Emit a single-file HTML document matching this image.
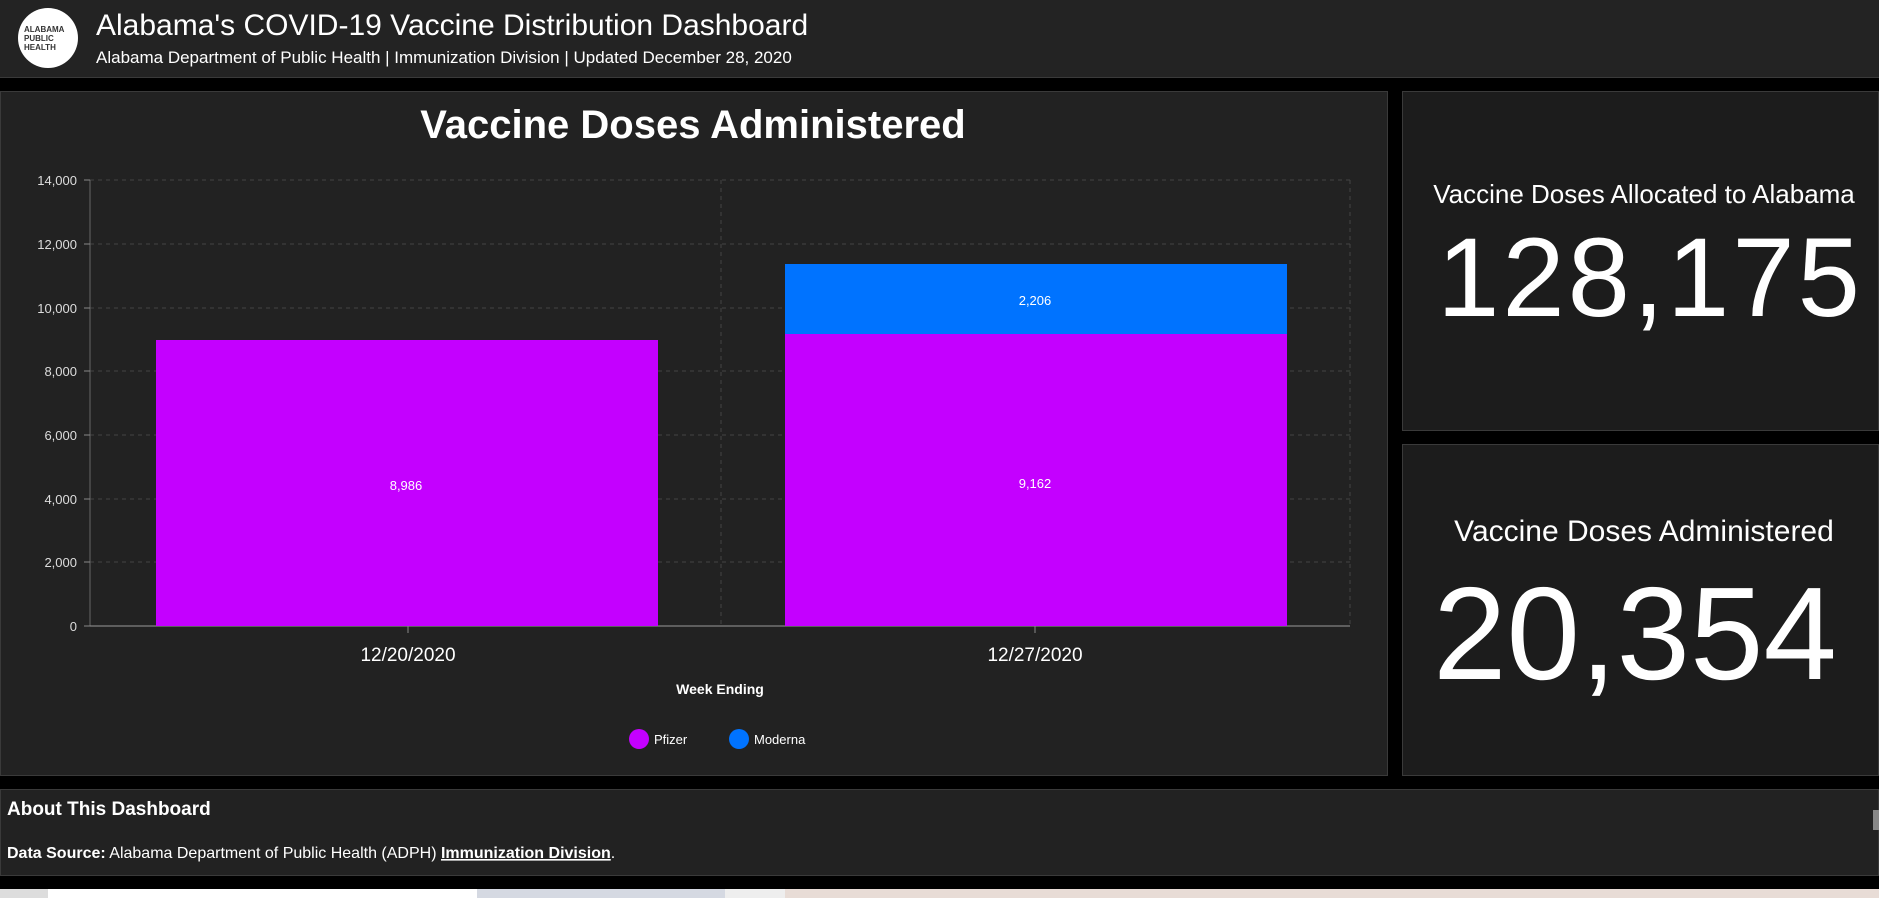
<!DOCTYPE html>
<html><head><meta charset="utf-8"><style>
*{margin:0;padding:0;box-sizing:border-box}
body{width:1879px;height:898px;background:#000;position:relative;overflow:hidden;font-family:"Liberation Sans",sans-serif;color:#fff}
.a{position:absolute}
</style></head><body>
<div class="a" style="left:0;top:0;width:1879px;height:78px;background:#232323;border-bottom:1px solid #3a3a3a"></div>
<div class="a" style="left:18px;top:8px;width:60px;height:60px;border-radius:50%;background:#fff;color:#333;font-size:8px;line-height:9px;padding:17px 0 0 6px;font-weight:bold">ALABAMA<br>PUBLIC<br>HEALTH</div>
<div class="a" style="left:96px;top:9px;font-size:30px;white-space:nowrap">Alabama's COVID-19 Vaccine Distribution Dashboard</div>
<div class="a" style="left:96px;top:48px;font-size:17px;white-space:nowrap">Alabama Department of Public Health | Immunization Division | Updated December 28, 2020</div>

<div class="a" style="left:0;top:91px;width:1388px;height:685px;background:#222;border:1px solid #3a3a3a"></div>
<div class="a" style="left:1402px;top:91px;width:477px;height:340px;background:#1c1c1c;border:1px solid #3a3a3a"></div>
<div class="a" style="left:1402px;top:444px;width:477px;height:332px;background:#1c1c1c;border:1px solid #3a3a3a"></div>
<div class="a" style="left:0;top:789px;width:1879px;height:87px;background:#222;border:1px solid #3a3a3a"></div>

<svg class="a" style="left:0;top:0" width="1879" height="898">
<text x="693" y="138" text-anchor="middle" font-size="40" font-weight="bold" fill="#fff">Vaccine Doses Administered</text>
<g stroke="#444" stroke-dasharray="4,4" stroke-width="1">
<line x1="90" y1="180" x2="1350" y2="180"/><line x1="90" y1="244" x2="1350" y2="244"/>
<line x1="90" y1="308" x2="1350" y2="308"/><line x1="90" y1="371" x2="1350" y2="371"/>
<line x1="90" y1="435" x2="1350" y2="435"/><line x1="90" y1="499" x2="1350" y2="499"/>
<line x1="90" y1="562" x2="1350" y2="562"/>
<line x1="721" y1="180" x2="721" y2="626"/><line x1="1350" y1="180" x2="1350" y2="626"/>
</g>
<line x1="90" y1="180" x2="90" y2="626" stroke="#666"/>
<line x1="90" y1="626" x2="1350" y2="626" stroke="#999"/>
<g fill="#ddd" font-size="13" text-anchor="end">
<text x="77" y="185">14,000</text><text x="77" y="249">12,000</text><text x="77" y="313">10,000</text>
<text x="77" y="376">8,000</text><text x="77" y="440">6,000</text><text x="77" y="504">4,000</text>
<text x="77" y="567">2,000</text><text x="77" y="631">0</text>
</g>
<g stroke="#888"><line x1="84" y1="180" x2="90" y2="180"/><line x1="84" y1="244" x2="90" y2="244"/><line x1="84" y1="308" x2="90" y2="308"/><line x1="84" y1="371" x2="90" y2="371"/><line x1="84" y1="435" x2="90" y2="435"/><line x1="84" y1="499" x2="90" y2="499"/><line x1="84" y1="562" x2="90" y2="562"/><line x1="84" y1="626" x2="90" y2="626"/>
<line x1="408" y1="626" x2="408" y2="633"/><line x1="1035" y1="626" x2="1035" y2="633"/></g>
<rect x="156" y="340" width="502" height="286" fill="#c400ff"/>
<rect x="785" y="334" width="502" height="292" fill="#c400ff"/>
<rect x="785" y="264" width="502" height="70" fill="#0073ff"/>
<g fill="#fff" font-size="13" text-anchor="middle">
<text x="406" y="490">8,986</text><text x="1035" y="488">9,162</text><text x="1035" y="305">2,206</text>
</g>
<g fill="#fff" font-size="19" text-anchor="middle">
<text x="408" y="661">12/20/2020</text><text x="1035" y="661">12/27/2020</text>
</g>
<text x="720" y="694" text-anchor="middle" font-size="14" font-weight="bold" fill="#fff">Week Ending</text>
<circle cx="639" cy="739" r="10" fill="#c400ff"/><text x="654" y="744" font-size="13" fill="#fff">Pfizer</text>
<circle cx="739" cy="739" r="10" fill="#0073ff"/><text x="754" y="744" font-size="13" fill="#fff">Moderna</text>

<text x="1644" y="203" text-anchor="middle" font-size="26" fill="#fff">Vaccine Doses Allocated to Alabama</text>
<text x="1650" y="316" text-anchor="middle" font-size="112" fill="#fff" letter-spacing="3">128,175</text>
<text x="1644" y="541" text-anchor="middle" font-size="30" fill="#fff">Vaccine Doses Administered</text>
<text x="1635" y="679" text-anchor="middle" font-size="132" fill="#fff">20,354</text>

<text x="7" y="815" font-size="19" font-weight="bold" fill="#fff">About This Dashboard</text>
<text x="7" y="858" font-size="16" fill="#fff"><tspan font-weight="bold">Data Source:</tspan> Alabama Department of Public Health (ADPH) <tspan font-weight="bold" text-decoration="underline">Immunization Division</tspan>.</text>
<rect x="1873" y="810" width="6" height="20" fill="#888"/>
<rect x="0" y="889" width="48" height="9" fill="#ddd"/>
<rect x="48" y="889" width="429" height="9" fill="#fff"/>
<rect x="477" y="889" width="248" height="9" fill="#d5d9e2"/>
<rect x="725" y="889" width="60" height="9" fill="#eee"/>
<rect x="785" y="889" width="1094" height="9" fill="#e8dcd6"/>
</svg>
</body></html>
